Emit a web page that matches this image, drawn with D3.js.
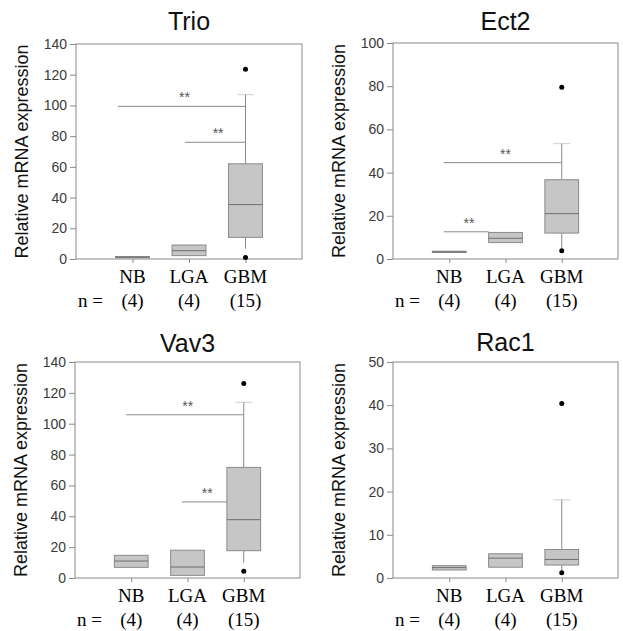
<!DOCTYPE html>
<html>
<head>
<meta charset="utf-8">
<script src="https://cdn.jsdelivr.net/npm/d3@7"></script>
<style>
  body { margin: 0; background: #fff; }
  svg { display: block; }
</style>
</head>
<body>
<div id="chart"></div>
<script>
const width = 623;
const height = 631;

const groups = ["NB", "LGA", "GBM"];
const groupCounts = ["(4)", "(4)", "(15)"];
const panelNames = ["Trio", "Ect2", "Vav3", "Rac1"];
const yMaxes = [140, 100, 140, 50];
const yTickSteps = [20, 20, 20, 10];

// [lower whisker, q1, median, q3, upper whisker] per group
const trioBoxes = [
    [0.8, 0.8, 1.2, 1.6, 1.6],
    [2.2, 2.2, 5.4, 9.1, 9.1],
    [6.7, 14.1, 35.4, 62, 107]
];
const ect2Boxes = [
    [3, 3, 3.3, 3.6, 3.6],
    [7.6, 7.6, 9.6, 12.3, 12.3],
    [5, 12, 21, 36.7, 53.4]
];
const vav3Boxes = [
    [6.9, 6.9, 11, 14.7, 14.7],
    [1.7, 1.7, 7.1, 18, 18],
    [9.9, 17.7, 37.8, 71.7, 113.9]
];
const rac1Boxes = [
    [1.85, 1.85, 2.4, 2.85, 2.85],
    [2.5, 2.5, 4.6, 5.6, 5.6],
    [1.2, 3.0, 4.3, 6.6, 18.1]
];

// outliers for the GBM group
const trioOutliers = [1, 123.5];
const ect2Outliers = [3.8, 79.5];
const vav3Outliers = [4.3, 126];
const rac1Outliers = [1.2, 40.4];

// significance bars: [x start, x end, y], x in group-position units (NB = 1)
const trioSig = [[0.74, 3, 99.4], [1.93, 3, 76]];
const ect2Sig = [[0.9, 3, 44.6], [0.9, 1.7, 12.6]];
const vav3Sig = [[0.91, 3, 105.8], [1.9, 2.7, 49.3]];
const rac1Sig = [];

const allBoxes = [trioBoxes, ect2Boxes, vav3Boxes, rac1Boxes];
const allOutliers = [trioOutliers, ect2Outliers, vav3Outliers, rac1Outliers];
const allSig = [trioSig, ect2Sig, vav3Sig, rac1Sig];

// frame boxes of each panel
const layout = [
    { left: 76, top: 44, right: 302, bottom: 259, titleGap: 14 },
    { left: 393, top: 43, right: 618, bottom: 259, titleGap: 13 },
    { left: 75, top: 362, right: 300, bottom: 578, titleGap: 10 },
    { left: 393, top: 362, right: 618, bottom: 578, titleGap: 11 }
];

const lineColor = "#8a8a8a";
const boxFill = "#c6c6c6";
const boxWidth = 0.6;

const svg = d3.select("#chart")
    .append("svg")
    .attr("width", width)
    .attr("height", height);

panelNames.forEach((name, i) => {
    const L = layout[i];
    const g = svg.append("g");

    const x = d3.scaleLinear().domain([0, 4]).range([L.left, L.right]);
    const y = d3.scaleLinear().domain([0, yMaxes[i]]).range([L.bottom, L.top]);

    // frame
    g.append("rect")
        .attr("x", L.left)
        .attr("y", L.top)
        .attr("width", L.right - L.left)
        .attr("height", L.bottom - L.top)
        .attr("fill", "none")
        .attr("stroke", lineColor)
        .attr("stroke-width", 1);

    // y axis
    const yAxis = g.append("g")
        .attr("transform", `translate(${L.left},0)`)
        .call(d3.axisLeft(y)
            .tickValues(d3.range(0, yMaxes[i] + 1, yTickSteps[i]))
            .tickSize(6)
            .tickPadding(3));
    yAxis.select(".domain").remove();
    yAxis.selectAll("line").attr("stroke", lineColor);
    yAxis.selectAll("text")
        .attr("fill", "#3a3a3a")
        .style("font-family", "Liberation Sans, Arial, sans-serif")
        .style("font-size", "14px");

    // x axis ticks at group positions
    const xAxis = g.append("g")
        .attr("transform", `translate(0,${L.bottom})`)
        .call(d3.axisBottom(x).tickValues([1, 2, 3]).tickSize(4).tickFormat(""));
    xAxis.select(".domain").remove();
    xAxis.selectAll("line").attr("stroke", lineColor);

    // title
    g.append("text")
        .attr("x", (L.left + L.right) / 2)
        .attr("y", L.top - L.titleGap)
        .attr("text-anchor", "middle")
        .style("font-family", "Liberation Sans, Arial, sans-serif")
        .style("font-size", "25px")
        .attr("fill", "#111")
        .text(name);

    // y label
    g.append("text")
        .attr("transform", `translate(${L.left - 48},${(L.top + L.bottom) / 2}) rotate(-90)`)
        .attr("text-anchor", "middle")
        .style("font-family", "Liberation Sans, Arial, sans-serif")
        .style("font-size", "18px")
        .attr("fill", "#111")
        .text("Relative mRNA expression");

    // category labels and counts
    g.selectAll(".cat")
        .data(groups)
        .join("text")
        .attr("class", "cat")
        .attr("x", (d, j) => x(j + 1))
        .attr("y", L.bottom + 24)
        .attr("text-anchor", "middle")
        .style("font-family", "Liberation Serif, Times New Roman, serif")
        .style("font-size", "19px")
        .text((d) => d);

    g.selectAll(".cnt")
        .data(groupCounts)
        .join("text")
        .attr("class", "cnt")
        .attr("x", (d, j) => x(j + 1))
        .attr("y", L.bottom + 48)
        .attr("text-anchor", "middle")
        .style("font-family", "Liberation Serif, Times New Roman, serif")
        .style("font-size", "19px")
        .text((d) => d);

    g.append("text")
        .attr("x", L.left + 2)
        .attr("y", L.bottom + 48)
        .style("font-family", "Liberation Serif, Times New Roman, serif")
        .style("font-size", "19px")
        .text("n =");

    // significance bars
    g.selectAll(".sig")
        .data(allSig[i])
        .join("line")
        .attr("class", "sig")
        .attr("x1", (d) => x(d[0]))
        .attr("x2", (d) => x(d[1]))
        .attr("y1", (d) => y(d[2]))
        .attr("y2", (d) => y(d[2]))
        .attr("stroke", lineColor);

    g.selectAll(".star")
        .data(allSig[i])
        .join("text")
        .attr("class", "star")
        .attr("x", (d) => x((d[0] + d[1]) / 2 + 0.05))
        .attr("y", (d) => y(d[2]) - 4)
        .attr("text-anchor", "middle")
        .style("font-family", "Liberation Sans, Arial, sans-serif")
        .style("font-size", "14px")
        .attr("fill", "#555")
        .text("**");

    // boxes
    const boxes = allBoxes[i];
    const bg = g.selectAll(".box")
        .data(boxes)
        .join("g")
        .attr("class", "box");

    bg.append("line")
        .attr("x1", (d, j) => x(j + 1))
        .attr("x2", (d, j) => x(j + 1))
        .attr("y1", (d) => y(d[4]))
        .attr("y2", (d) => y(d[3]))
        .attr("stroke", lineColor);
    bg.append("line")
        .attr("x1", (d, j) => x(j + 1))
        .attr("x2", (d, j) => x(j + 1))
        .attr("y1", (d) => y(d[1]))
        .attr("y2", (d) => y(d[0]))
        .attr("stroke", lineColor);
    // whisker caps
    bg.filter((d) => d[4] > d[3]).append("line")
        .attr("x1", (d) => x(3 - 0.15))
        .attr("x2", (d) => x(3 + 0.15))
        .attr("y1", (d) => y(d[4]))
        .attr("y2", (d) => y(d[4]))
        .attr("stroke", lineColor)
        .attr("stroke-opacity", 0.4);
    bg.append("rect")
        .attr("x", (d, j) => x(j + 1 - boxWidth / 2))
        .attr("width", x(boxWidth) - x(0))
        .attr("y", (d) => y(d[3]))
        .attr("height", (d) => Math.max(1, y(d[1]) - y(d[3])))
        .attr("fill", boxFill)
        .attr("stroke", lineColor);
    bg.append("line")
        .attr("x1", (d, j) => x(j + 1 - boxWidth / 2))
        .attr("x2", (d, j) => x(j + 1 + boxWidth / 2))
        .attr("y1", (d) => y(d[2]))
        .attr("y2", (d) => y(d[2]))
        .attr("stroke", "#6e6e6e");

    // outliers (GBM)
    g.selectAll(".out")
        .data(allOutliers[i])
        .join("circle")
        .attr("class", "out")
        .attr("cx", x(3))
        .attr("cy", (d) => y(d))
        .attr("r", 2.5)
        .attr("fill", "#000");
});
</script>
</body>
</html>
